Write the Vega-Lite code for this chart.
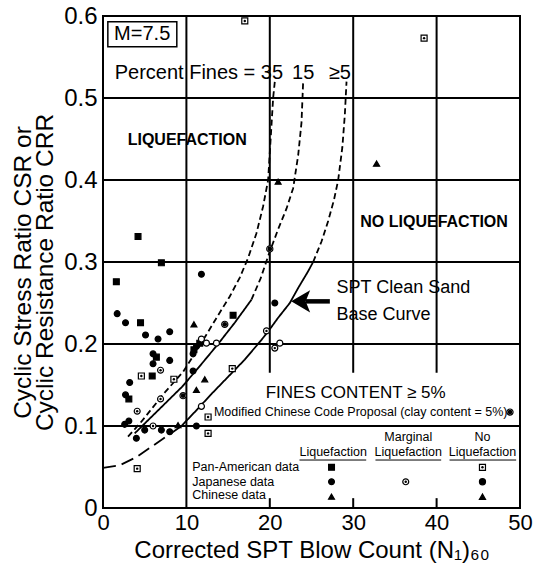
{
  "$schema": "https://vega.github.io/schema/vega-lite/v6.json",
  "width": 417,
  "height": 492,
  "autosize": "none",
  "padding": {"left": 103, "top": 16, "right": 14, "bottom": 61},
  "background": "white",
  "config": {"view": {"stroke": "black", "strokeWidth": 2}, "font": "Liberation Sans"},
  "encoding": {
    "x": {"field": "x", "type": "quantitative", "scale": {"domain": [0, 50], "nice": false, "zero": false},
      "axis": {"values": [0, 10, 20, 30, 40, 50], "grid": false, "ticks": false, "domain": false, "labelFontSize": 22, "labelColor": "black", "labelPadding": 4, "labelFlush": false, "labelOverlap": false, "labelFont": "Liberation Sans",
        "title": "Corrected SPT Blow Count (N₁)₆₀", "titleFontSize": 24, "titleFontWeight": "normal", "titleColor": "black", "titlePadding": 5, "titleFont": "Liberation Sans"}},
    "y": {"field": "y", "type": "quantitative", "scale": {"domain": [0, 0.6], "nice": false, "zero": false},
      "axis": {"values": [0, 0.1, 0.2, 0.3, 0.4, 0.5, 0.6], "labelExpr": "datum.value == 0 ? '0' : format(datum.value, '.1f')", "grid": false, "ticks": false, "domain": false, "labelFontSize": 24, "labelColor": "black", "labelPadding": 6, "labelFlush": false, "labelOverlap": false, "labelFont": "Liberation Sans",
        "title": ["Cyclic Stress Ratio CSR or", "Cyclic Resistance Ratio CRR"], "titleFontSize": 24.5, "titleLineHeight": 22, "titleFontWeight": "normal", "titleColor": "black", "titleFont": "Liberation Sans", "titleAngle": 270, "titleX": -80, "titleY": 256, "titleAlign": "center", "titleBaseline": "middle"}}
  },
  "layer": [
    {
      "data": {"values": [
        {"x": 0, "x2": 50, "y": 0.1, "y2": 0.1},
        {"x": 0, "x2": 50, "y": 0.2, "y2": 0.2},
        {"x": 0, "x2": 50, "y": 0.3, "y2": 0.3},
        {"x": 0, "x2": 50, "y": 0.4, "y2": 0.4},
        {"x": 0, "x2": 50, "y": 0.5, "y2": 0.5},
        {"x": 10, "x2": 10, "y": 0, "y2": 0.6},
        {"x": 20, "x2": 20, "y": 0.165, "y2": 0.6},
        {"x": 30, "x2": 30, "y": 0.165, "y2": 0.6},
        {"x": 40, "x2": 40, "y": 0.165, "y2": 0.6},
        {"x": 20, "x2": 20, "y": 0, "y2": 0.012},
        {"x": 30, "x2": 30, "y": 0, "y2": 0.012},
        {"x": 40, "x2": 40, "y": 0, "y2": 0.012}
      ]},
      "mark": {"type": "rule", "color": "black", "strokeWidth": 2},
      "encoding": {"x2": {"field": "x2"}, "y2": {"field": "y2"}}
    },
    {
      "data": {"values": [
        {"x": 23.56, "x2": 31.56, "y": 0.0585, "y2": 0.0585},
        {"x": 32.67, "x2": 40.55, "y": 0.0585, "y2": 0.0585},
        {"x": 41.55, "x2": 49.54, "y": 0.0585, "y2": 0.0585}
      ]},
      "mark": {"type": "rule", "color": "black", "strokeWidth": 1},
      "encoding": {"x2": {"field": "x2"}, "y2": {"field": "y2"}}
    },
    {
      "data": {"values": [{"x": 0.58, "x2": 8.85, "y": 0.5626, "y2": 0.593}]},
      "mark": {"type": "rect", "fill": "white", "stroke": "black", "strokeWidth": 1.5},
      "encoding": {"x2": {"field": "x2"}, "y2": {"field": "y2"}}
    },
    {
      "data": {"values": [
        {"g": "c35", "s": "dash", "o": 1, "x": 3.0, "y": 0.087},
        {"g": "c35", "s": "dash", "o": 2, "x": 4.5, "y": 0.104},
        {"g": "c35", "s": "dash", "o": 3, "x": 6.0, "y": 0.123},
        {"g": "c35", "s": "dash", "o": 4, "x": 7.5, "y": 0.142},
        {"g": "c35", "s": "dash", "o": 5, "x": 9.6, "y": 0.166},
        {"g": "c35", "s": "dash", "o": 6, "x": 11.6, "y": 0.198},
        {"g": "c35", "s": "dash", "o": 7, "x": 13.8, "y": 0.235},
        {"g": "c35", "s": "dash", "o": 8, "x": 15.2, "y": 0.258},
        {"g": "c35", "s": "dash", "o": 9, "x": 16.4, "y": 0.281},
        {"g": "c35", "s": "dash", "o": 10, "x": 17.4, "y": 0.305},
        {"g": "c35", "s": "dash", "o": 11, "x": 18.4, "y": 0.335},
        {"g": "c35", "s": "dash", "o": 12, "x": 19.2, "y": 0.368},
        {"g": "c35", "s": "dash", "o": 13, "x": 19.8, "y": 0.40},
        {"g": "c35", "s": "dash", "o": 14, "x": 20.1, "y": 0.45},
        {"g": "c35", "s": "dash", "o": 15, "x": 20.4, "y": 0.50},
        {"g": "c35", "s": "dash", "o": 16, "x": 20.6, "y": 0.52},
        {"g": "c15a", "s": "solid", "o": 1, "x": 3.8, "y": 0.091},
        {"g": "c15a", "s": "solid", "o": 2, "x": 5.5, "y": 0.108},
        {"g": "c15a", "s": "solid", "o": 3, "x": 7.5, "y": 0.128},
        {"g": "c15a", "s": "solid", "o": 4, "x": 9.5, "y": 0.148},
        {"g": "c15a", "s": "solid", "o": 5, "x": 11.6, "y": 0.173},
        {"g": "c15a", "s": "solid", "o": 6, "x": 13.8, "y": 0.20},
        {"g": "c15a", "s": "solid", "o": 7, "x": 15.8, "y": 0.226},
        {"g": "c15a", "s": "solid", "o": 8, "x": 17.8, "y": 0.254},
        {"g": "c15b", "s": "dash", "o": 1, "x": 17.8, "y": 0.254},
        {"g": "c15b", "s": "dash", "o": 2, "x": 18.9, "y": 0.28},
        {"g": "c15b", "s": "dash", "o": 3, "x": 19.9, "y": 0.31},
        {"g": "c15b", "s": "dash", "o": 4, "x": 21.0, "y": 0.34},
        {"g": "c15b", "s": "dash", "o": 5, "x": 22.0, "y": 0.365},
        {"g": "c15b", "s": "dash", "o": 6, "x": 22.8, "y": 0.39},
        {"g": "c15b", "s": "dash", "o": 7, "x": 23.4, "y": 0.43},
        {"g": "c15b", "s": "dash", "o": 8, "x": 23.8, "y": 0.47},
        {"g": "c15b", "s": "dash", "o": 9, "x": 24.0, "y": 0.52},
        {"g": "ba", "s": "long", "o": 1, "x": 0, "y": 0.049},
        {"g": "ba", "s": "long", "o": 2, "x": 2, "y": 0.052},
        {"g": "ba", "s": "long", "o": 3, "x": 4, "y": 0.062},
        {"g": "ba", "s": "long", "o": 4, "x": 6, "y": 0.076},
        {"g": "ba", "s": "long", "o": 5, "x": 8, "y": 0.09},
        {"g": "ba", "s": "long", "o": 6, "x": 9.4, "y": 0.1},
        {"g": "bb", "s": "solid", "o": 1, "x": 9.4, "y": 0.1},
        {"g": "bb", "s": "solid", "o": 2, "x": 11, "y": 0.117},
        {"g": "bb", "s": "solid", "o": 3, "x": 13, "y": 0.139},
        {"g": "bb", "s": "solid", "o": 4, "x": 15, "y": 0.16},
        {"g": "bb", "s": "solid", "o": 5, "x": 17, "y": 0.181},
        {"g": "bb", "s": "solid", "o": 6, "x": 19, "y": 0.205},
        {"g": "bb", "s": "solid", "o": 7, "x": 20, "y": 0.218},
        {"g": "bb", "s": "solid", "o": 8, "x": 21, "y": 0.232},
        {"g": "bb", "s": "solid", "o": 9, "x": 22.4, "y": 0.25},
        {"g": "bb", "s": "solid", "o": 10, "x": 23.5, "y": 0.27},
        {"g": "bb", "s": "solid", "o": 11, "x": 24.5, "y": 0.287},
        {"g": "bb", "s": "solid", "o": 12, "x": 25.2, "y": 0.30},
        {"g": "bc", "s": "dash", "o": 1, "x": 25.2, "y": 0.30},
        {"g": "bc", "s": "dash", "o": 2, "x": 26.2, "y": 0.325},
        {"g": "bc", "s": "dash", "o": 3, "x": 27.0, "y": 0.35},
        {"g": "bc", "s": "dash", "o": 4, "x": 27.7, "y": 0.376},
        {"g": "bc", "s": "dash", "o": 5, "x": 28.2, "y": 0.40},
        {"g": "bc", "s": "dash", "o": 6, "x": 28.7, "y": 0.44},
        {"g": "bc", "s": "dash", "o": 7, "x": 29.0, "y": 0.48},
        {"g": "bc", "s": "dash", "o": 8, "x": 29.2, "y": 0.52}
      ]},
      "mark": {"type": "line", "color": "black", "strokeWidth": 1.8},
      "encoding": {
        "detail": {"field": "g"},
        "order": {"field": "o", "type": "quantitative"},
        "strokeDash": {"field": "s", "type": "nominal", "scale": {"domain": ["solid", "dash", "long"], "range": [[1, 0], [6, 3.5], [13, 6]]}, "legend": null}
      }
    },
    {
      "data": {"name": "pts", "values": [
        {"x": 17.0, "y": 0.594, "t": "PN"},
        {"x": 38.5, "y": 0.573, "t": "PN"},
        {"x": 32.8, "y": 0.42, "t": "CN"},
        {"x": 21.0, "y": 0.398, "t": "CL"},
        {"x": 4.2, "y": 0.331, "t": "PL"},
        {"x": 7.0, "y": 0.299, "t": "PL"},
        {"x": 1.6, "y": 0.276, "t": "PL"},
        {"x": 11.8, "y": 0.285, "t": "JL"},
        {"x": 1.7, "y": 0.237, "t": "JL"},
        {"x": 2.7, "y": 0.226, "t": "JL"},
        {"x": 4.5, "y": 0.226, "t": "PL"},
        {"x": 5.1, "y": 0.211, "t": "JL"},
        {"x": 6.6, "y": 0.206, "t": "JL"},
        {"x": 8.0, "y": 0.215, "t": "JL"},
        {"x": 10.9, "y": 0.224, "t": "CL"},
        {"x": 14.6, "y": 0.224, "t": "MC"},
        {"x": 15.6, "y": 0.235, "t": "PL"},
        {"x": 20.0, "y": 0.316, "t": "MC"},
        {"x": 20.6, "y": 0.25, "t": "JL"},
        {"x": 19.6, "y": 0.216, "t": "JM"},
        {"x": 20.6, "y": 0.195, "t": "JM"},
        {"x": 21.2, "y": 0.201, "t": "JO"},
        {"x": 11.6, "y": 0.201, "t": "PL"},
        {"x": 11.2, "y": 0.197, "t": "JL"},
        {"x": 10.9, "y": 0.193, "t": "PL"},
        {"x": 10.8, "y": 0.188, "t": "JL"},
        {"x": 11.8, "y": 0.206, "t": "JO"},
        {"x": 12.4, "y": 0.201, "t": "JO"},
        {"x": 13.6, "y": 0.201, "t": "JO"},
        {"x": 6.0, "y": 0.188, "t": "JL"},
        {"x": 6.4, "y": 0.184, "t": "PL"},
        {"x": 6.0, "y": 0.176, "t": "JL"},
        {"x": 8.0, "y": 0.180, "t": "JL"},
        {"x": 6.9, "y": 0.168, "t": "JM"},
        {"x": 4.6, "y": 0.161, "t": "PN"},
        {"x": 5.9, "y": 0.161, "t": "PL"},
        {"x": 8.5, "y": 0.157, "t": "PN"},
        {"x": 3.2, "y": 0.153, "t": "JL"},
        {"x": 12.2, "y": 0.157, "t": "CL"},
        {"x": 10.8, "y": 0.167, "t": "JL"},
        {"x": 2.7, "y": 0.138, "t": "JL"},
        {"x": 3.1, "y": 0.133, "t": "PL"},
        {"x": 6.9, "y": 0.133, "t": "JM"},
        {"x": 9.6, "y": 0.137, "t": "MC"},
        {"x": 11.2, "y": 0.144, "t": "CL"},
        {"x": 4.1, "y": 0.118, "t": "JM"},
        {"x": 3.1, "y": 0.106, "t": "JL"},
        {"x": 2.6, "y": 0.102, "t": "JL"},
        {"x": 6.0, "y": 0.100, "t": "JM"},
        {"x": 5.0, "y": 0.095, "t": "JL"},
        {"x": 7.0, "y": 0.095, "t": "JL"},
        {"x": 8.0, "y": 0.093, "t": "JL"},
        {"x": 9.0, "y": 0.101, "t": "CL"},
        {"x": 11.2, "y": 0.100, "t": "JL"},
        {"x": 4.0, "y": 0.085, "t": "JL"},
        {"x": 11.8, "y": 0.124, "t": "JO"},
        {"x": 12.6, "y": 0.111, "t": "PN"},
        {"x": 12.6, "y": 0.091, "t": "PN"},
        {"x": 15.5, "y": 0.170, "t": "PN"},
        {"x": 4.1, "y": 0.048, "t": "PN"},
        {"x": 27.4, "y": 0.0496, "t": "PL"},
        {"x": 27.4, "y": 0.032, "t": "JL"},
        {"x": 27.4, "y": 0.0138, "t": "CL"},
        {"x": 36.3, "y": 0.032, "t": "JM"},
        {"x": 45.5, "y": 0.0496, "t": "PN"},
        {"x": 45.5, "y": 0.032, "t": "JN"},
        {"x": 45.5, "y": 0.0138, "t": "CN"},
        {"x": 48.8, "y": 0.117, "t": "MC"}
      ]},
      "layer": [
        {
          "mark": {"type": "point", "filled": true, "stroke": "black", "strokeWidth": 1.2, "opacity": 1},
          "encoding": {
            "shape": {"field": "t", "type": "nominal", "scale": {"domain": ["PL", "JL", "CL", "JM", "PN", "JO", "JN", "CN", "MC"], "range": ["square", "circle", "triangle-up", "circle", "square", "circle", "circle", "triangle-up", "circle"]}, "legend": null},
            "fill": {"field": "t", "type": "nominal", "scale": {"domain": ["PL", "JL", "CL", "JM", "PN", "JO", "JN", "CN", "MC"], "range": ["black", "black", "black", "white", "white", "white", "black", "black", "white"]}, "legend": null},
            "size": {"field": "t", "type": "nominal", "scale": {"domain": ["PL", "JL", "CL", "JM", "PN", "JO", "JN", "CN", "MC"], "range": [34, 38, 38, 40, 40, 26, 50, 72, 100]}, "legend": null}
          }
        },
        {
          "transform": [{"filter": "datum.t == 'PN' || datum.t == 'JM'"}],
          "mark": {"type": "circle", "color": "black", "size": 6, "opacity": 1}
        },
        {
          "transform": [{"filter": "datum.t == 'MC'"}],
          "mark": {"type": "circle", "color": "black", "size": 22, "opacity": 1}
        }
      ]
    },
    {
      "data": {"values": [{"x": 24.3, "x2": 27.2, "y": 0.252, "y2": 0.252}]},
      "mark": {"type": "rule", "color": "black", "strokeWidth": 4.5},
      "encoding": {"x2": {"field": "x2"}, "y2": {"field": "y2"}}
    },
    {
      "data": {"values": [{"x": 23.9, "y": 0.252}]},
      "mark": {"type": "point", "shape": "M -1 0 L 0.7 -1 L 0.3 0 L 0.7 1 Z", "size": 500, "filled": true, "color": "black", "opacity": 1}
    },
    {
      "data": {"values": [{"x": 10.1, "y": 0.449, "text": "LIQUEFACTION"}, {"x": 39.7, "y": 0.349, "text": "NO LIQUEFACTION"}]},
      "mark": {"type": "text", "fontSize": 16, "fontWeight": "bold", "align": "center", "baseline": "middle", "color": "black", "font": "Liberation Sans"},
      "encoding": {"text": {"field": "text"}}
    },
    {
      "data": {"values": [{"x": 1.4, "y": 0.531, "text": "Percent Fines = 35"}]},
      "mark": {"type": "text", "fontSize": 20, "align": "left", "baseline": "middle", "color": "black", "font": "Liberation Sans"},
      "encoding": {"text": {"field": "text"}}
    },
    {
      "data": {"values": [{"x": 24.0, "y": 0.531, "text": "15"}, {"x": 28.4, "y": 0.531, "text": "≥5"}, {"x": 4.7, "y": 0.578, "text": "M=7.5"}]},
      "mark": {"type": "text", "fontSize": 20, "align": "center", "baseline": "middle", "color": "black", "font": "Liberation Sans"},
      "encoding": {"text": {"field": "text"}}
    },
    {
      "data": {"values": [{"x": 28.0, "y": 0.268, "text": "SPT Clean Sand"}, {"x": 28.0, "y": 0.235, "text": "Base Curve"}]},
      "mark": {"type": "text", "fontSize": 18, "align": "left", "baseline": "middle", "color": "black", "font": "Liberation Sans"},
      "encoding": {"text": {"field": "text"}}
    },
    {
      "data": {"values": [{"x": 30.3, "y": 0.14, "text": "FINES CONTENT ≥ 5%"}]},
      "mark": {"type": "text", "fontSize": 17, "align": "center", "baseline": "middle", "color": "black", "font": "Liberation Sans"},
      "encoding": {"text": {"field": "text"}}
    },
    {
      "data": {"values": [
        {"x": 13.3, "y": 0.117, "text": "Modified Chinese Code Proposal (clay content = 5%)"},
        {"x": 10.7, "y": 0.0496, "text": "Pan-American data"},
        {"x": 10.7, "y": 0.032, "text": "Japanese data"},
        {"x": 10.7, "y": 0.0159, "text": "Chinese data"}
      ]},
      "mark": {"type": "text", "fontSize": 12.5, "align": "left", "baseline": "middle", "color": "black", "font": "Liberation Sans"},
      "encoding": {"text": {"field": "text"}}
    },
    {
      "data": {"values": [
        {"x": 27.6, "y": 0.0687, "text": "Liquefaction"},
        {"x": 36.6, "y": 0.0862, "text": "Marginal"},
        {"x": 36.6, "y": 0.0687, "text": "Liquefaction"},
        {"x": 45.5, "y": 0.0862, "text": "No"},
        {"x": 45.5, "y": 0.0687, "text": "Liquefaction"}
      ]},
      "mark": {"type": "text", "fontSize": 12.5, "align": "center", "baseline": "middle", "color": "black", "font": "Liberation Sans"},
      "encoding": {"text": {"field": "text"}}
    }
  ]
}
